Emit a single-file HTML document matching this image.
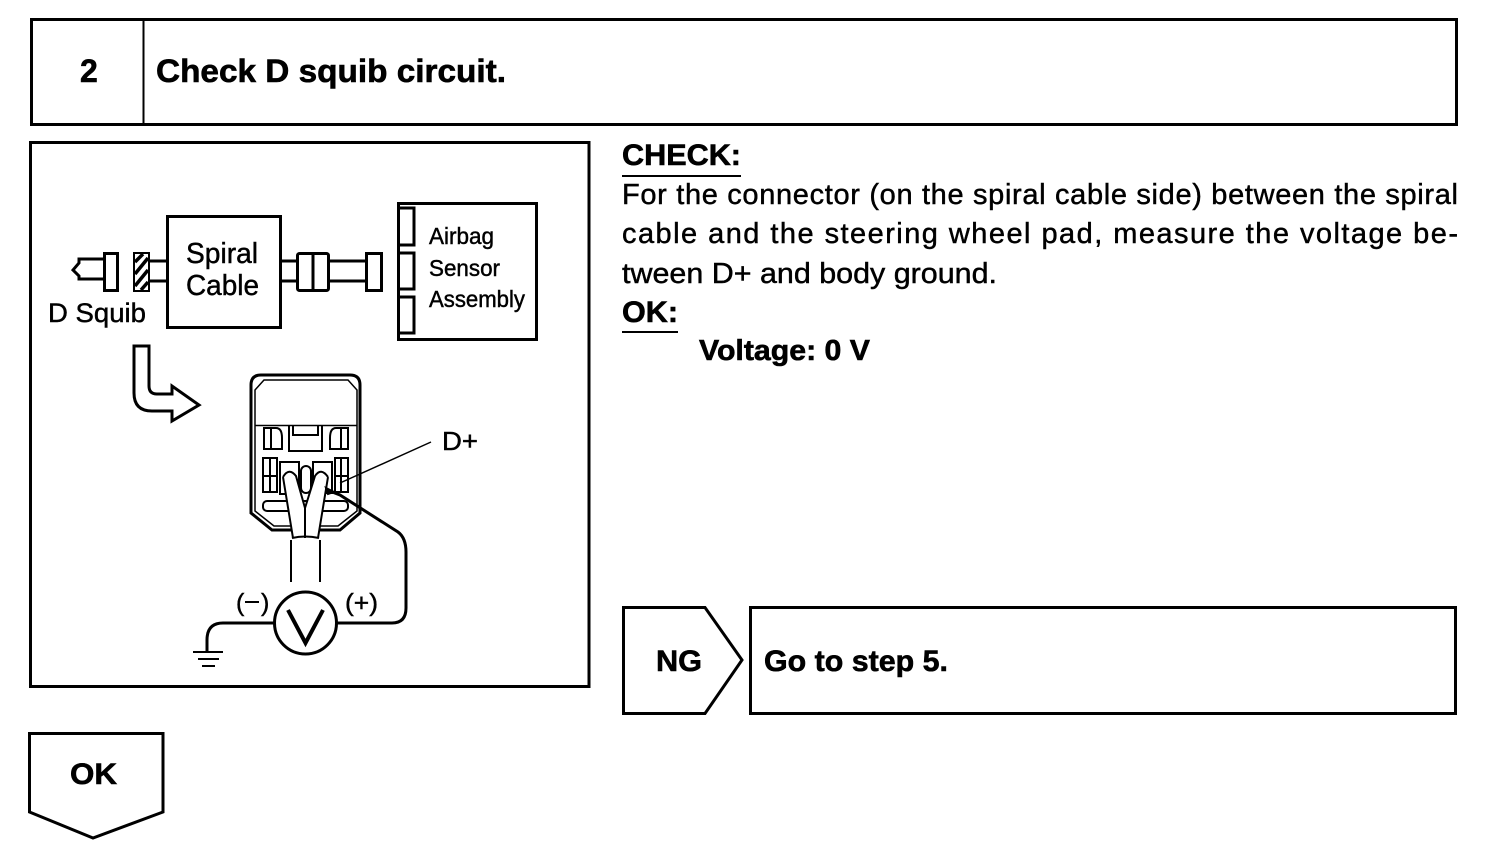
<!DOCTYPE html>
<html><head><meta charset="utf-8"><style>
html,body{margin:0;padding:0;background:#fff}
svg{display:block}
text{font-family:"Liberation Sans",sans-serif;fill:#000;stroke:#000;stroke-width:.45}
.b{font-weight:bold;stroke-width:.6}
.s{fill:none;stroke:#000;stroke-width:3}
.t{fill:none;stroke:#000;stroke-width:2}
</style></head><body>
<svg width="1504" height="856" viewBox="0 0 1504 856" xmlns="http://www.w3.org/2000/svg">
<rect x="31.5" y="19.5" width="1425" height="105" class="s"/>
<path d="M143.5 20V124" class="t"/>
<text x="80" y="82" class="b" font-size="32">2</text>
<text x="156" y="82" class="b" font-size="32" textLength="350" lengthAdjust="spacingAndGlyphs">Check D squib circuit.</text>

<rect x="30.5" y="142.5" width="558.500" height="544" class="s"/>

<text x="622" y="165" class="b" font-size="30" textLength="119" lengthAdjust="spacingAndGlyphs">CHECK:</text>
<path d="M622 176H741" class="t"/>
<text x="622" y="204" font-size="29" textLength="836" lengthAdjust="spacing">For the connector (on the spiral cable side) between the spiral</text>
<text x="622" y="243" font-size="29" textLength="836" lengthAdjust="spacing">cable and the steering wheel pad, measure the voltage be-</text>
<text x="622" y="283" font-size="29" textLength="375" lengthAdjust="spacingAndGlyphs">tween D+ and body ground.</text>
<text x="622" y="322" class="b" font-size="30" textLength="56" lengthAdjust="spacingAndGlyphs">OK:</text>
<path d="M622 332H678" class="t"/>
<text x="699" y="360" class="b" font-size="29" textLength="171" lengthAdjust="spacingAndGlyphs">Voltage: 0 V</text>

<!-- NG -->
<path d="M623.500 607.500H705L742 660L705 713.500H623.500Z" class="s"/>
<text x="656" y="671" class="b" font-size="30" textLength="46" lengthAdjust="spacingAndGlyphs">NG</text>
<rect x="750.500" y="607.500" width="705" height="106" class="s"/>
<text x="764" y="671" class="b" font-size="30" textLength="184" lengthAdjust="spacingAndGlyphs">Go to step 5.</text>

<!-- OK -->
<path d="M29.500 733.500H163V812L93 838L29.500 812Z" class="s"/>
<text x="70" y="784" class="b" font-size="30" textLength="47" lengthAdjust="spacingAndGlyphs">OK</text>

<!-- top block diagram -->
<path d="M103 259H79V263L73 270L79 276V279H103" class="s"/>
<rect x="104.500" y="253.500" width="13" height="37" class="s"/>
<rect x="134" y="253" width="15" height="38" class="t"/>
<path d="M135 262L143 254M135 274L148 258M135 286L148 270M141 290L148 282" stroke="#000" stroke-width="3.500" fill="none"/>
<path d="M149 261H167M149 281H167" class="s"/>
<rect x="167.500" y="216.500" width="113" height="111" class="s"/>
<text x="186" y="263" font-size="29" textLength="72" lengthAdjust="spacingAndGlyphs">Spiral</text>
<text x="186" y="295" font-size="29" textLength="73" lengthAdjust="spacingAndGlyphs">Cable</text>
<text x="48" y="322" font-size="27" textLength="98" lengthAdjust="spacingAndGlyphs">D Squib</text>
<path d="M281 261H297M281 281H297" class="s"/>
<rect x="297.500" y="253.500" width="31" height="37" rx="2" class="s"/>
<path d="M313 253V291" class="s"/>
<path d="M329 261H366M329 281H366" class="s"/>
<rect x="366.500" y="253.500" width="15" height="37" class="s"/>
<rect x="398.500" y="203.500" width="138" height="136" class="s"/>
<path d="M399 208H414V245H399M399 253H414V289H399M399 297H414V333H399" class="s"/>
<text x="429" y="244" font-size="23" textLength="65" lengthAdjust="spacingAndGlyphs">Airbag</text>
<text x="429" y="276" font-size="23" textLength="71" lengthAdjust="spacingAndGlyphs">Sensor</text>
<text x="429" y="307" font-size="23" textLength="96" lengthAdjust="spacingAndGlyphs">Assembly</text>

<!-- bent arrow -->
<path d="M134 346H149V386Q149 394 157 394H172V386L199 405L172 421V411H152Q134 411 134 393Z" class="s"/>

<!-- connector -->
<path d="M251 385Q251 375 261 375H350Q360 375 360 385V513L340 530H272L251 513Z" class="s"/>
<path d="M255 390L264 380H348L357 390V511L338 526H274L255 511Z" fill="none" stroke="#000" stroke-width="1.500"/>
<path d="M255 425.500H357" fill="none" stroke="#000" stroke-width="1.500"/>
<path d="M264 428H276Q282 428 282 438V449H264ZM271 428V449" class="t"/>
<path d="M348 428H336Q330 428 330 438V449H348ZM341 428V449" class="t"/>
<path d="M289 426V451H322V426M293 426V435H318V426" class="t"/>
<path d="M263 458H277V492H263ZM270 458V492M263 476H277" class="t"/>
<path d="M335 458H348V492H335ZM341 458V492M335 476H348" class="t"/>
<rect x="280" y="462" width="19" height="32" class="t"/>
<rect x="313" y="462" width="19" height="31" class="t"/>
<rect x="301" y="466" width="10" height="27" rx="5" class="t"/>
<rect x="263" y="501" width="85" height="10" rx="4" fill="#fff" stroke="#000" stroke-width="2"/>
<!-- cable -->
<path d="M283 477Q289 467 296 476L305 508L315 476Q321 467 328 477L318 538H293Z" fill="#fff" stroke="none"/>
<path d="M283 477Q289 467 296 476L305 508L315 476Q321 467 328 477M283 477L293 538M328 477L318 538M305 508V538" class="t"/>
<path d="M292 538Q305 535 319 538" class="t"/>
<path d="M291 540V582M320 540V582" class="t"/>
<!-- D+ leader -->
<path d="M431 442L340 483" fill="none" stroke="#000" stroke-width="1.500"/>
<text x="442" y="450" font-size="26" textLength="36" lengthAdjust="spacingAndGlyphs">D+</text>
<!-- probe wire -->
<path d="M327 490L340 495L398 532Q406 538 406 552V608Q406 623 392 623H336" class="s"/>
<path d="M326 488L334 492L328 494Z" fill="#000" stroke="#000" stroke-width="2"/>
<circle cx="305.500" cy="623" r="31" class="s"/>
<path d="M288 610L305.500 643L323 610" fill="none" stroke="#000" stroke-width="4"/>
<text x="236" y="611" font-size="25">(</text>
<path d="M245 602H259" class="t"/>
<text x="261" y="611" font-size="25">)</text>
<text x="345" y="611" font-size="25" textLength="33" lengthAdjust="spacingAndGlyphs">(+)</text>
<path d="M275 623H223Q207 623 207 640V652" class="s"/>
<path d="M193 652H223M198 659H219M202 666H215" class="t"/>
</svg>
</body></html>
